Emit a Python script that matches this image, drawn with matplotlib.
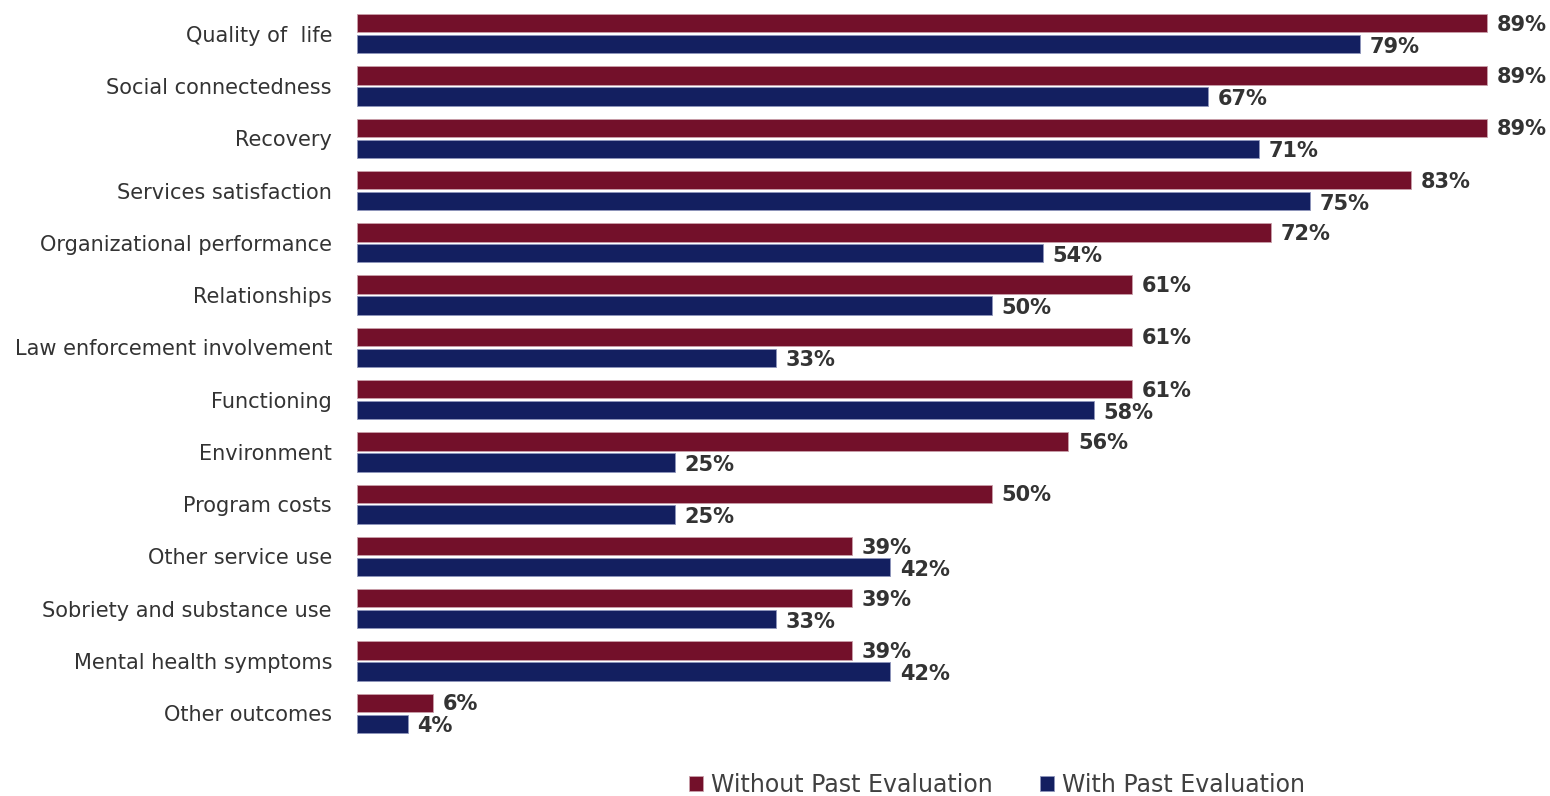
import matplotlib.pyplot as plt
import numpy as np

categories = ['Quality of  life', 'Social connectedness', 'Recovery', 'Services satisfaction',
              'Organizational performance', 'Relationships', 'Law enforcement involvement',
              'Functioning', 'Environment', 'Program costs', 'Other service use',
              'Sobriety and substance use', 'Mental health symptoms', 'Other outcomes']
without_past = [89, 89, 89, 83, 72, 61, 61, 61, 56, 50, 39, 39, 39, 6]
with_past = [79, 67, 71, 75, 54, 50, 33, 58, 25, 25, 42, 33, 42, 4]

red = '#73102a'
blue = '#131f60'
txt = '#333333'

plt.rcParams['font.family'] = ['DejaVu Sans']

fig = plt.figure(figsize=(15.5, 7.96), dpi=100)
ax = fig.add_axes([357 / 1550, 1 - 742 / 796, 1 - 357 / 1550, (742 - 5) / 796])

y = np.arange(len(categories))
h = 0.35
ax.barh(y - 0.2, without_past, height=h, color=red, edgecolor='#c9a0aa', linewidth=0.6,
        label='Without Past Evaluation')
ax.barh(y + 0.2, with_past, height=h, color=blue, edgecolor='#8f96bb', linewidth=0.6,
        label='With Past Evaluation')

for i in range(len(categories)):
    ax.annotate(f'{without_past[i]}%', (without_past[i], y[i] - 0.17), xytext=(7, 0),
                textcoords='offset points', va='center', ha='left', fontsize=15,
                fontweight='semibold', color=txt)
    ax.annotate(f'{with_past[i]}%', (with_past[i], y[i] + 0.25), xytext=(7, 0),
                textcoords='offset points', va='center', ha='left', fontsize=15,
                fontweight='semibold', color=txt)

ax.set_yticks(y)
ax.set_yticklabels(categories, fontsize=15, color=txt)
ax.tick_params(axis='y', length=0, pad=18)
ax.set_xticks([])
ax.set_xlim(0, (1550 - 357) / 12.7)
ax.set_ylim(13.55, -0.55)
for s in ax.spines.values():
    s.set_visible(False)

ax.legend(loc='center', bbox_to_anchor=(997 / 1550, 1 - 785 / 796), bbox_transform=fig.transFigure,
          ncol=2, frameon=False, fontsize=17, handlelength=0.6, handleheight=0.6,
          handletextpad=0.35, columnspacing=2.0, labelcolor='#404040')

fig.savefig('out.png', dpi=100)
